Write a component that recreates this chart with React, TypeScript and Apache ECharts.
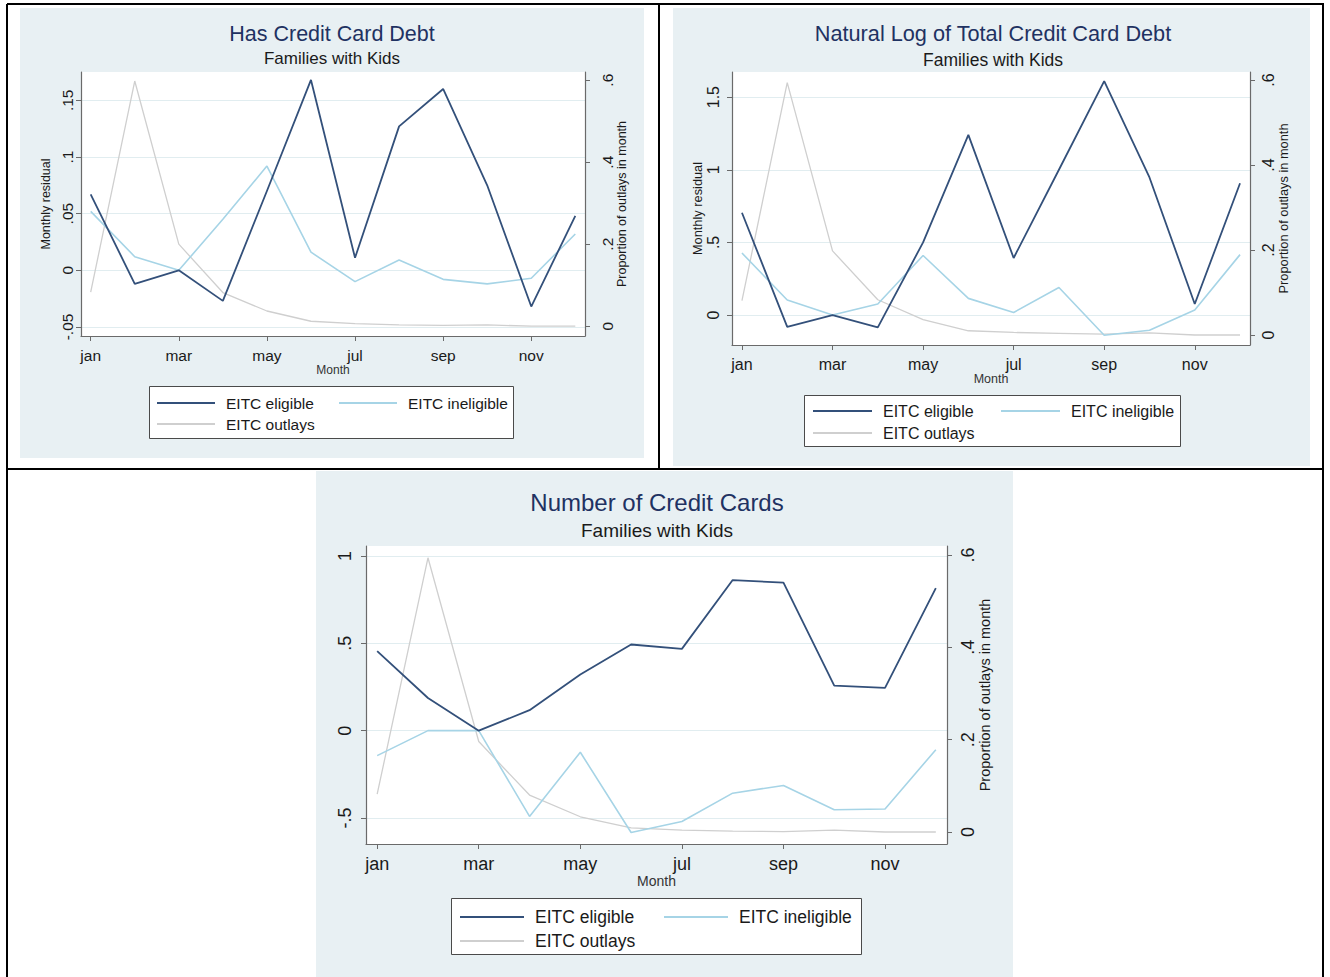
import React, { useEffect, useRef } from 'react';
import * as echarts from 'echarts';

// ---------- data ----------
const months = ['jan', 'feb', 'mar', 'apr', 'may', 'jun', 'jul', 'aug', 'sep', 'oct', 'nov', 'dec'];
const monthTicks = [0, 2, 4, 6, 8, 10];

// Has Credit Card Debt
const debtEligible = [0.067, -0.012, 0.0, -0.027, 0.07, 0.168, 0.011, 0.127, 0.16, 0.075, -0.032, 0.048];
const debtIneligible = [0.052, 0.012, 0.0, 0.045, 0.092, 0.016, -0.01, 0.009, -0.008, -0.012, -0.007, 0.032];
const debtOutlays = [0.083, 0.598, 0.2, 0.082, 0.037, 0.012, 0.006, 0.003, 0.002, 0.003, 0.0, 0.0];

// Natural Log of Total Credit Card Debt
const logEligible = [0.704, -0.081, 0.0, -0.085, 0.5, 1.24, 0.393, 1.0, 1.61, 0.947, 0.076, 0.907];
const logIneligible = [0.427, 0.104, 0.0, 0.076, 0.41, 0.115, 0.018, 0.19, -0.139, -0.104, 0.035, 0.416];
const logOutlays = [0.081, 0.594, 0.198, 0.083, 0.036, 0.01, 0.006, 0.004, 0.002, 0.005, 0.0, 0.0];

// Number of Credit Cards
const cardsEligible = [0.455, 0.187, 0.0, 0.117, 0.321, 0.493, 0.468, 0.862, 0.847, 0.258, 0.245, 0.816];
const cardsIneligible = [-0.143, 0.0, 0.0, -0.491, -0.124, -0.583, -0.52, -0.358, -0.314, -0.453, -0.449, -0.109];
const cardsOutlays = [0.082, 0.594, 0.196, 0.08, 0.033, 0.009, 0.004, 0.002, 0.001, 0.004, 0.0, 0.0];

const debtTicks = [-0.05, 0, 0.05, 0.1, 0.15];
const logTicks = [0, 0.5, 1, 1.5];
const cardsTicks = [-0.5, 0, 0.5, 1];
const outlayTicks = [0, 0.2, 0.4, 0.6];

const seriesNames = ['EITC eligible', 'EITC ineligible', 'EITC outlays'];
const subtitle = 'Families with Kids';

// ---------- styles ----------
const FONT = '"Liberation Sans", Arial, sans-serif';
const BG = '#e8f0f3';
const C_ELIG = '#33507a';
const C_INEL = '#a6d4e6';
const C_OUT = '#cfcfcf';
const AXIS = '#6a6a6a';
const TXT = '#1a1a1a';
const TITLE = '#1f3262';

function fmtNum(v: number): string {
  const r = Math.round(v * 1000) / 1000;
  if (r === 0) return '0';
  return String(r).replace(/^(-?)0\./, '$1.');
}

const panels = [
  {
    title: 'Has Credit Card Debt', cx: 332, titleY: 33.5, subY: 58.5, titleSize: 21.5, subSize: 17,
    bg: [20, 8, 624, 450],
    grid: { left: 81, top: 72, width: 504, height: 264 },
    left: { min: -0.058, max: 0.175, interval: 0.05, ticks: debtTicks, name: 'Monthly residual', margin: 6, nameGap: 29 },
    right: { min: -0.024, max: 0.62, margin: 14, nameGap: 24 },
    tickSize: 15.5, nameSize: 12.5, monthSize: 12, xMargin: 11, monthGap: 27,
    data: [debtEligible, debtIneligible, debtOutlays],
    legend: { box: [149, 386, 364, 52], col1: 156, col2: 338, row1: 402, row2: 423, len: 58, size: 15.5 },
  },
  {
    title: 'Natural Log of Total Credit Card Debt', cx: 993, titleY: 33.5, subY: 59.5, titleSize: 21.7, subSize: 17.5,
    bg: [673, 8, 637, 458],
    grid: { left: 732, top: 72, width: 518, height: 273 },
    left: { min: -0.206, max: 1.673, interval: 0.5, ticks: logTicks, name: 'Monthly residual', margin: 11, nameGap: 27 },
    right: { min: -0.0235, max: 0.619, margin: 10, nameGap: 26 },
    tickSize: 16, nameSize: 12.8, monthSize: 12.5, xMargin: 11, monthGap: 26,
    data: [logEligible, logIneligible, logOutlays],
    legend: { box: [804, 395, 376, 51], col1: 812, col2: 1000, row1: 410, row2: 432, len: 59, size: 16 },
  },
  {
    title: 'Number of Credit Cards', cx: 657, titleY: 502, subY: 530.5, titleSize: 24, subSize: 19,
    bg: [316, 471, 697, 506],
    grid: { left: 366, top: 546, width: 581, height: 298 },
    left: { min: -0.649, max: 1.057, interval: 0.5, ticks: cardsTicks, name: '', margin: 12, nameGap: 30 },
    right: { min: -0.026, max: 0.6195, margin: 12, nameGap: 29 },
    tickSize: 18, nameSize: 14.5, monthSize: 14, xMargin: 11, monthGap: 28,
    data: [cardsEligible, cardsIneligible, cardsOutlays],
    legend: { box: [451, 898, 410, 56], col1: 459, col2: 663, row1: 915, row2: 939, len: 64, size: 17.5 },
  },
];

function buildOption() {
  const title: any[] = [];
  const grid: any[] = [];
  const xAxis: any[] = [];
  const yAxis: any[] = [];
  const series: any[] = [];
  const legend: any[] = [];
  const elements: any[] = [];

  panels.forEach((p, i) => {
    elements.push({
      type: 'rect', z: -1, silent: true,
      shape: { x: p.bg[0], y: p.bg[1], width: p.bg[2], height: p.bg[3] },
      style: { fill: BG },
    });
    title.push({
      text: p.title, left: p.cx, top: p.titleY, textAlign: 'center', textVerticalAlign: 'middle', padding: 0,
      textStyle: { fontFamily: FONT, fontSize: p.titleSize, fontWeight: 'normal', color: TITLE },
    });
    title.push({
      text: subtitle, left: p.cx, top: p.subY, textAlign: 'center', textVerticalAlign: 'middle', padding: 0,
      textStyle: { fontFamily: FONT, fontSize: p.subSize, fontWeight: 'normal', color: TXT },
    });
    grid.push({ ...p.grid, show: true, backgroundColor: '#ffffff', borderWidth: 0, containLabel: false });

    xAxis.push({
      gridIndex: i, type: 'value', min: -0.22, max: 11.22,
      name: 'Month', nameLocation: 'middle', nameGap: p.monthGap,
      nameTextStyle: { fontFamily: FONT, fontSize: p.monthSize, color: '#333' },
      axisLine: { show: true, onZero: false, lineStyle: { color: AXIS, width: 1.2 } },
      axisTick: { show: true, length: 5, customValues: monthTicks, lineStyle: { color: AXIS } },
      axisLabel: {
        customValues: monthTicks, margin: p.xMargin, fontFamily: FONT, fontSize: p.tickSize, color: TXT,
        formatter: (v: number) => months[Math.round(v)] ?? '',
      },
      splitLine: { show: false },
    });

    yAxis.push({
      gridIndex: i, type: 'value', position: 'left', min: p.left.min, max: p.left.max,
      minInterval: p.left.interval, maxInterval: p.left.interval,
      name: p.left.name, nameLocation: 'middle', nameGap: p.left.nameGap,
      nameTextStyle: { fontFamily: FONT, fontSize: p.nameSize, color: TXT },
      axisLine: { show: true, onZero: false, lineStyle: { color: AXIS, width: 1.2 } },
      axisTick: { show: true, length: 5, customValues: p.left.ticks, lineStyle: { color: AXIS } },
      axisLabel: {
        customValues: p.left.ticks, rotate: 90, margin: p.left.margin,
        fontFamily: FONT, fontSize: p.tickSize, color: TXT, formatter: (v: number) => fmtNum(v),
      },
      splitLine: { show: true, lineStyle: { color: '#e1edf0', width: 1 } },
    });
    yAxis.push({
      gridIndex: i, type: 'value', position: 'right', min: p.right.min, max: p.right.max,
      minInterval: 0.2, maxInterval: 0.2,
      name: 'Proportion of outlays in month', nameLocation: 'middle', nameGap: p.right.nameGap,
      nameTextStyle: { fontFamily: FONT, fontSize: p.nameSize, color: TXT },
      axisLine: { show: true, onZero: false, lineStyle: { color: AXIS, width: 1.2 } },
      axisTick: { show: true, length: 5, customValues: outlayTicks, lineStyle: { color: AXIS } },
      axisLabel: {
        customValues: outlayTicks, rotate: 90, margin: p.right.margin,
        fontFamily: FONT, fontSize: p.tickSize, color: TXT, formatter: (v: number) => fmtNum(v),
      },
      splitLine: { show: false },
    });

    const [elig, inel, outl] = p.data;
    series.push({
      name: seriesNames[2], type: 'line', xAxisIndex: i, yAxisIndex: 2 * i + 1, symbol: 'none', z: 2,
      lineStyle: { color: C_OUT, width: 1.3 }, itemStyle: { color: C_OUT },
      data: outl.map((v, k) => [k, v]),
    });
    series.push({
      name: seriesNames[1], type: 'line', xAxisIndex: i, yAxisIndex: 2 * i, symbol: 'none', z: 3,
      lineStyle: { color: C_INEL, width: 1.6 }, itemStyle: { color: C_INEL },
      data: inel.map((v, k) => [k, v]),
    });
    series.push({
      name: seriesNames[0], type: 'line', xAxisIndex: i, yAxisIndex: 2 * i, symbol: 'none', z: 4,
      lineStyle: { color: C_ELIG, width: 1.8 }, itemStyle: { color: C_ELIG },
      data: elig.map((v, k) => [k, v]),
    });

    const L = p.legend;
    elements.push({
      type: 'rect', z: 1, silent: true,
      shape: { x: L.box[0] + 0.5, y: L.box[1] + 0.5, width: L.box[2], height: L.box[3] },
      style: { fill: '#ffffff', stroke: '#4a4a4a', lineWidth: 1 },
    });
    const places = [
      [L.col1, L.row1],
      [L.col2, L.row1],
      [L.col1, L.row2],
    ];
    seriesNames.forEach((nm, k) => {
      legend.push({
        left: places[k][0], top: places[k][1] - 7, padding: 0, itemGap: 0,
        itemWidth: L.len, itemHeight: 14, selectedMode: false,
        itemStyle: { opacity: 0 },
        data: [nm],
        textStyle: { fontFamily: FONT, fontSize: L.size, color: TXT, padding: [0, 0, 0, 6] },
      });
    });
  });

  // table borders
  const lines = [
    [7, 4, 1324, 4],
    [7, 4, 7, 977],
    [1323, 4, 1323, 977],
    [659, 4, 659, 469],
    [7, 469, 1324, 469],
  ];
  lines.forEach((l) => {
    elements.push({
      type: 'line', z: 5, silent: true,
      shape: { x1: l[0], y1: l[1], x2: l[2], y2: l[3] },
      style: { stroke: '#000000', lineWidth: 2 },
    });
  });

  return {
    animation: false,
    backgroundColor: '#ffffff',
    title, grid, xAxis, yAxis, series, legend,
    graphic: { elements },
  };
}

export default function App() {
  const ref = useRef<HTMLDivElement>(null);
  useEffect(() => {
    if (!ref.current) return;
    const chart = echarts.init(ref.current, undefined, { renderer: 'svg' });
    chart.setOption(buildOption() as any);
    return () => chart.dispose();
  }, []);
  return (
    <div
      ref={ref}
      style={{ position: 'absolute', left: 0, top: 0, width: 1330, height: 977 }}
    />
  );
}
